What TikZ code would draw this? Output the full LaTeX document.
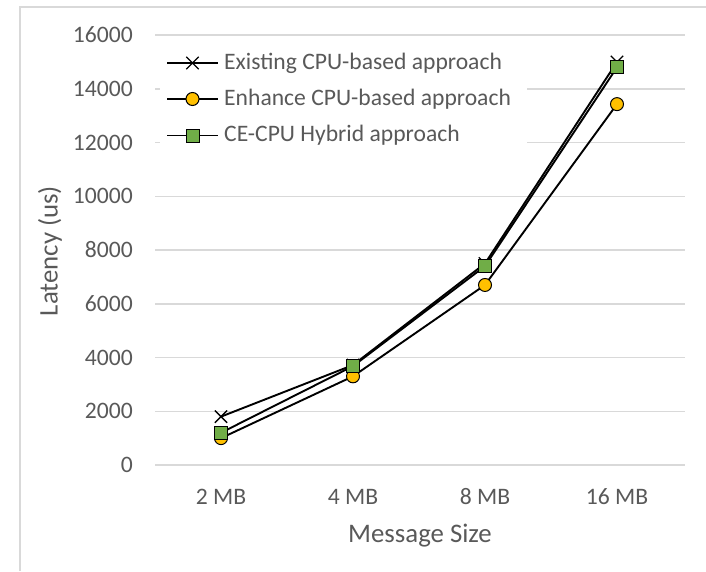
\documentclass[tikz,border=0pt]{standalone}
\usepackage{fontspec}
\setmainfont{Carlito}
\usepackage{xcolor}
\usepackage{tikz}
\usetikzlibrary{shapes.misc}
\definecolor{txtgray}{HTML}{595959}
\definecolor{gridgray}{HTML}{D9D9D9}
\definecolor{mkgreen}{HTML}{70AD47}
\definecolor{mkorange}{HTML}{FFC000}
\tikzstyle{gridline} = [draw=gridgray, line width=1.5pt]
\tikzstyle{series} = [draw=black, line width=1.9pt]
\tikzstyle{ticklbl} = [text=txtgray, font=\fontsize{23.6}{28}\selectfont, inner sep=0pt]
\tikzstyle{axtitle} = [text=txtgray, font=\fontsize{26.8}{31}\selectfont, inner sep=0pt]
\tikzstyle{xmark} = [cross out, draw=black, line width=1.3pt, minimum size=11pt, inner sep=0pt]
\tikzstyle{dotmark} = [circle, draw=black, fill=mkorange, line width=1pt, minimum size=13pt, inner sep=0pt]
\tikzstyle{sqmark} = [rectangle, draw=black, fill=mkgreen, line width=1pt, minimum size=13pt, inner sep=0pt]

\begin{document}
\begin{tikzpicture}[x=1pt, y=-1pt]
  \useasboundingbox (0, 0) rectangle (706, 571);
  \draw[gridgray, line width=1.2pt] (20, 571) -- (20, 7) -- (706, 7);

  \draw[gridline] (155, 465) -- (685, 465);
  \draw[gridline] (155, 411.25) -- (685, 411.25);
  \draw[gridline] (155, 357.5) -- (685, 357.5);
  \draw[gridline] (155, 303.75) -- (685, 303.75);
  \draw[gridline] (155, 250) -- (685, 250);
  \draw[gridline] (155, 196.25) -- (685, 196.25);
  \draw[gridline] (155, 142.5) -- (685, 142.5);
  \draw[gridline] (155, 88.75) -- (685, 88.75);
  \draw[gridline] (155, 35) -- (685, 35);

  \node[ticklbl, anchor=east] (t0) at (133, 465) {0};
  \node[ticklbl, anchor=east] (t2) at (133, 411.25) {2000};
  \node[ticklbl, anchor=east] (t4) at (133, 357.5) {4000};
  \node[ticklbl, anchor=east] (t6) at (133, 303.75) {6000};
  \node[ticklbl, anchor=east] (t8) at (133, 250) {8000};
  \node[ticklbl, anchor=east] (t10) at (133, 196.25) {10000};
  \node[ticklbl, anchor=east] (t12) at (133, 142.5) {12000};
  \node[ticklbl, anchor=east] (t14) at (133, 88.75) {14000};
  \node[ticklbl, anchor=east] (t16) at (133, 35) {16000};

  \node[ticklbl] (c1) at (221, 497) {2 MB};
  \node[ticklbl] (c2) at (353, 497) {4 MB};
  \node[ticklbl] (c3) at (485, 497) {8 MB};
  \node[ticklbl] (c4) at (617, 497) {16 MB};

  \node[axtitle] (xtitle) at (420, 536) {Message Size};
  \node[axtitle, rotate=90] (ytitle) at (50, 251) {Latency (us)};

  \begin{scope}[shift={(89, 465)}, x=132pt, y=0.026875pt]
    \coordinate (ex1) at (1, 1800);
    \coordinate (ex2) at (2, 3720);
    \coordinate (ex3) at (3, 7500);
    \coordinate (ex4) at (4, 15000);
    \coordinate (en1) at (1, 1000);
    \coordinate (en2) at (2, 3300);
    \coordinate (en3) at (3, 6700);
    \coordinate (en4) at (4, 13430);
    \coordinate (hy1) at (1, 1200);
    \coordinate (hy2) at (2, 3680);
    \coordinate (hy3) at (3, 7400);
    \coordinate (hy4) at (4, 14800);
  \end{scope}

  \draw[series] (ex1) -- (ex2) -- (ex3) -- (ex4);
  \node[xmark] (exm1) at (ex1) {};
  \node[xmark] (exm2) at (ex2) {};
  \node[xmark] (exm3) at (ex3) {};
  \node[xmark] (exm4) at (ex4) {};

  \draw[series] (en1) -- (en2) -- (en3) -- (en4);
  \node[dotmark] (enm1) at (en1) {};
  \node[dotmark] (enm2) at (en2) {};
  \node[dotmark] (enm3) at (en3) {};
  \node[dotmark] (enm4) at (en4) {};

  \draw[series] (hy1) -- (hy2) -- (hy3) -- (hy4);
  \node[sqmark] (hym1) at (hy1) {};
  \node[sqmark] (hym2) at (hy2) {};
  \node[sqmark] (hym3) at (hy3) {};
  \node[sqmark] (hym4) at (hy4) {};

  \fill[white] (160, 46) rectangle (527, 154);
  \coordinate (la1) at (167, 63);
  \coordinate (lb1) at (218, 63);
  \coordinate (la2) at (167, 99);
  \coordinate (lb2) at (218, 99);
  \coordinate (la3) at (167, 135.5);
  \coordinate (lb3) at (218, 135.5);
  \draw[series] (la1) -- (lb1);
  \draw[series] (la2) -- (lb2);
  \draw[series] (la3) -- (lb3);
  \node[xmark] (lm1) at (192.5, 63) {};
  \node[dotmark] (lm2) at (192.5, 99) {};
  \node[sqmark] (lm3) at (192.5, 135.5) {};
  \node[ticklbl, anchor=west] (lt1) at (224, 63) {Existing CPU-based approach};
  \node[ticklbl, anchor=west] (lt2) at (224, 99) {Enhance CPU-based approach};
  \node[ticklbl, anchor=west] (lt3) at (224, 135.5) {CE-CPU Hybrid approach};

\end{tikzpicture}
\end{document}
